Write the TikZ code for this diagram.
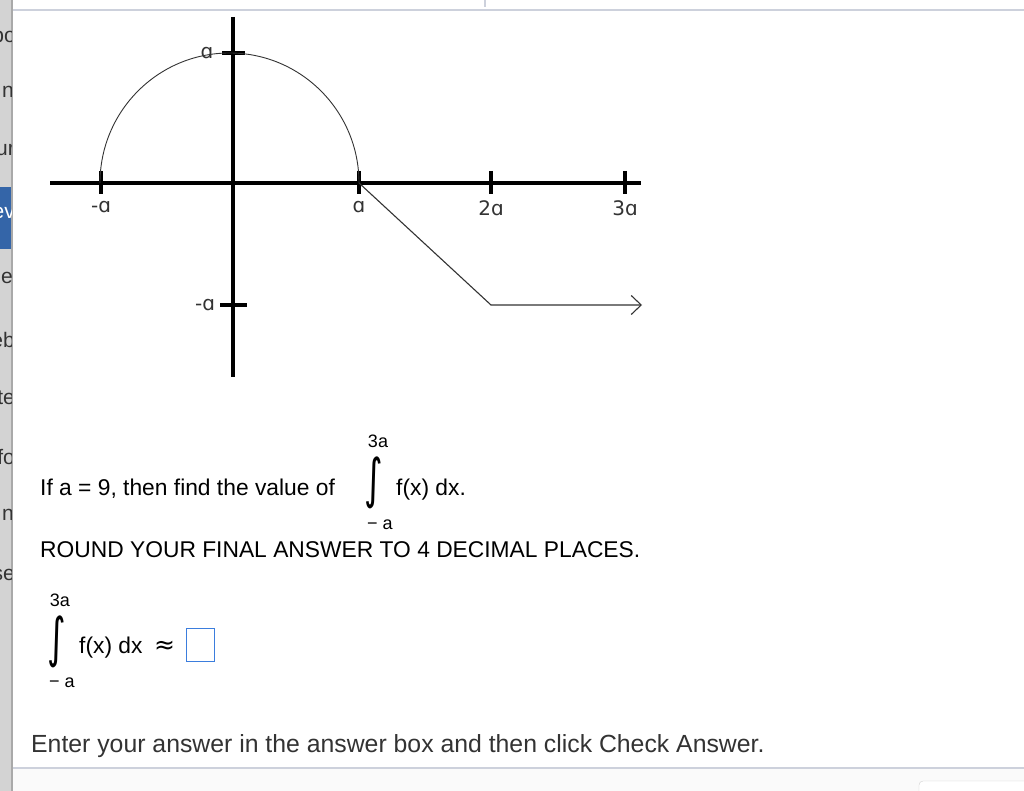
\documentclass[tikz,border=0pt]{standalone}
\usepackage{fontspec}
\setmainfont{Liberation Sans}
\newfontfamily\graphfont{DejaVu Sans}
\usetikzlibrary{arrows.meta}
\definecolor{sidegray}{HTML}{D3D3D3}
\definecolor{sideline}{HTML}{A9A9A9}
\definecolor{sideblue}{HTML}{3465A8}
\definecolor{rulecol}{HTML}{CDD1DC}
\definecolor{boxblue}{HTML}{3B7DDD}
\definecolor{labgray}{HTML}{333333}
\definecolor{textgray}{HTML}{333333}
\tikzset{
  axis/.style={line width=4pt},
  tick/.style={line width=4pt},
  curve/.style={line width=0.9pt, labgray},
  ticklab/.style={font=\graphfont\fontsize{20}{20}\selectfont, text=labgray, inner sep=0pt},
  maintext/.style={font=\fontsize{22.8}{22.8}\selectfont, inner sep=0pt, anchor=base west},
  limtext/.style={font=\fontsize{18}{18}\selectfont, inner sep=0pt},
  intsign/.style={font=\graphfont\fontsize{42}{42}\selectfont, inner sep=0pt},
  sidetext/.style={font=\fontsize{21}{21}\selectfont, inner sep=0pt, anchor=east, text=textgray},
}
\newcommand{\bigint}{\scalebox{0.85}[1.28]{∫}}
\begin{document}
\begin{tikzpicture}[x=1pt,y=-1pt]
\useasboundingbox (0,0) rectangle (1024,791);
\fill[white] (0,0) rectangle (1024,791);
% sidebar
\fill[sidegray] (0,0) rectangle (11,791);
\fill[sideblue] (0,187) rectangle (11,249);
\fill[sideline] (11,0) rectangle (13,791);
\begin{scope}
\clip (0,0) rectangle (11,791);
\node[sidetext] (s1) at (16,35) {bo};
\node[sidetext] (s2) at (14,92) {n};
\node[sidetext] (s3) at (15,150) {ur};
\node[sidetext, text=white] (s4) at (15,213) {ev};
\node[sidetext] (s5) at (13,278) {e};
\node[sidetext] (s6) at (15,340) {eb};
\node[sidetext] (s7) at (15,398) {te};
\node[sidetext] (s8) at (15,457) {fo};
\node[sidetext] (s9) at (14,515) {n};
\node[sidetext] (s10) at (15,575) {se};
\end{scope}
% top and bottom rules
\fill[rulecol] (13,9) rectangle (1024,11);
\fill[rulecol] (484,0) rectangle (486,7);
\fill[black!2] (13,769) rectangle (1024,791);
\fill[rulecol] (13,767) rectangle (1024,769);
\draw[black!18, fill=white, rounded corners=4pt] (919,781) rectangle (1034,800);
% graph
\draw[axis] (50,183) -- (641,183);
\draw[axis] (233,17) -- (233,377);
\draw[tick] (101,171) -- (101,194);
\draw[tick] (359,171) -- (359,194);
\draw[tick] (491,171) -- (491,194);
\draw[tick] (625,171) -- (625,194);
\draw[tick] (222,53) -- (245,53);
\draw[tick] (220,305) -- (247,305);
\draw[curve] (100,183) arc[start angle=180, end angle=360, x radius=129.5, y radius=130];
\coordinate (p0) at (359,183);
\coordinate (p1) at (491,305);
\coordinate (p2) at (642,305);
\draw[line width=1.1pt, labgray, -{Straight Barb[length=10pt,width=19pt,line width=1.1pt]}] (p0) -- (p1) -- (p2);
\node[ticklab] (lx1) at (101,207) {-ɑ};
\node[ticklab] (lx2) at (359,207) {ɑ};
\node[ticklab] (lx3) at (491,208) {2ɑ};
\node[ticklab] (lx4) at (625,208) {3ɑ};
\node[ticklab] (ly1) at (207,53) {ɑ};
\node[ticklab] (ly2) at (205,305) {-ɑ};
% question text
\node[maintext] (q1) at (40,495) {If a = 9, then find the value of};
\node[intsign] (i1) at (374,482.5) {\bigint};
\node[limtext] (u1) at (378,441) {3a};
\node[limtext] (d1) at (380,525) {− a};
\node[maintext] (f1) at (396,495) {f(x) dx.};
\node[maintext] (r1) at (40,557) {ROUND YOUR FINAL ANSWER TO 4 DECIMAL PLACES.};
\node[intsign] (i2) at (57,641.5) {\bigint};
\node[limtext] (u2) at (60,600) {3a};
\node[limtext] (d2) at (62,683) {− a};
\node[maintext] (f2) at (79,653) {f(x) dx};
\node[font=\graphfont\fontsize{25}{25}\selectfont, inner sep=0pt] (ap) at (164.5,647) {≈};
\node[draw=boxblue, line width=1.4pt, minimum width=28pt, minimum height=33pt, inner sep=0pt] (box) at (200.5,645) {};
\node[maintext, font=\fontsize{24.8}{24.8}\selectfont, text=textgray] (e1) at (31,752) {Enter your answer in the answer box and then click Check Answer.};
\end{tikzpicture}
\end{document}
